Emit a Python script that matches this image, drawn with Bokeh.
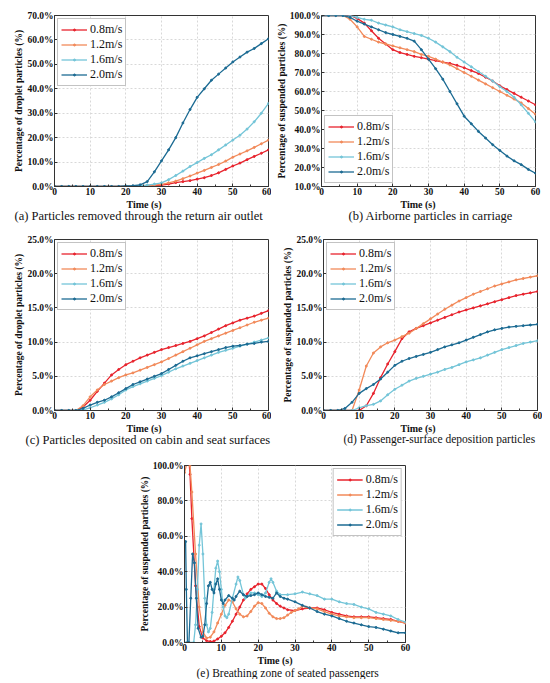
from bokeh.plotting import figure
from bokeh.models import Title, PrintfTickFormatter, FixedTicker, Range1d, Spacer
from bokeh.layouts import column, row
from bokeh.embed import file_html
from bokeh.resources import INLINE

SERIES = ["0.8m/s", "1.2m/s", "1.6m/s", "2.0m/s"]
COLORS = ["#e8232d", "#f28a5a", "#74c5d8", "#1c6b93"]

# time axis (s) for panels a-d
T = [0, 2, 4, 6, 8, 10, 12, 14, 16, 18, 20, 22, 24, 26, 28, 30,
     32, 34, 36, 38, 40, 42, 44, 46, 48, 50, 52, 54, 56, 58, 60]

# (a) removed through return air outlet (%)
a_08 = [0, 0, 0, 0, 0, 0, 0, 0, 0, 0, 0.1, 0.1, 0.2, 0.3, 0.4, 0.6,
        1.0, 1.6, 2.0, 2.4, 3.0, 3.6, 4.5, 5.6, 7.0, 8.4, 9.6, 11.0, 12.3, 13.6, 15.0]
a_12 = [0, 0, 0, 0, 0, 0, 0, 0, 0, 0, 0.1, 0.1, 0.2, 0.4, 0.6, 0.9,
        1.5, 2.2, 3.2, 4.3, 5.5, 6.6, 7.8, 9.0, 10.4, 12.0, 13.3, 14.6, 16.0, 17.5, 19.0]
a_16 = [0, 0, 0, 0, 0, 0, 0, 0, 0, 0, 0.1, 0.2, 0.3, 0.6, 1.0, 1.5,
        2.8, 4.5, 6.3, 8.2, 9.8, 11.5, 13.0, 15.0, 17.0, 19.0, 21.0, 23.5, 26.5, 30.0, 34.0]
a_20 = [0, 0, 0, 0, 0, 0, 0, 0, 0, 0, 0.2, 0.3, 0.7, 2.0, 6.0, 10.5,
        15.0, 20.0, 26.0, 31.5, 36.5, 40.0, 43.5, 46.0, 48.5, 51.0, 53.0, 55.0, 56.5, 58.5, 60.5]

# (b) airborne particles in carriage (%)
b_08 = [100, 100, 100, 100, 100, 98.5, 96, 92, 88, 85, 82, 80.5, 79.5, 78.5, 77.8, 77,
        76.3, 75.5, 74.8, 73.8, 72.5, 71, 69.5, 67.5, 65.5, 63, 61, 59, 57, 55, 53]
b_12 = [100, 100, 100, 100, 98, 94, 89, 87.5, 86, 85, 84, 83, 82, 81, 79.5, 78.5,
        77, 75.5, 74, 72, 70, 68, 66, 64, 62, 60, 58, 56, 54, 51, 48]
b_16 = [100, 100, 100, 100, 100, 99, 98, 97.5, 96, 95, 94, 92.5, 91.5, 90.5, 89.5, 88,
        86, 83.5, 81, 78, 75.5, 73, 70.5, 68, 65.5, 62.5, 60, 57, 53, 48.5, 44]
b_20 = [100, 100, 100, 100, 99, 97, 95.5, 94, 92.5, 91, 90, 89, 88, 86.5, 82, 77,
        72, 66.5, 60, 53.5, 47, 43, 39, 35.5, 32, 29, 26, 23.5, 21.5, 19, 17]

# (c) deposited on cabin and seat surfaces (%)
c_08 = [0, 0, 0, 0, 0.5, 1.5, 2.8, 4.0, 5.2, 6.0, 6.7, 7.2, 7.7, 8.1, 8.5, 8.9,
        9.2, 9.5, 9.8, 10.1, 10.5, 10.9, 11.4, 11.9, 12.4, 12.8, 13.2, 13.5, 13.8, 14.2, 14.6]
c_12 = [0, 0, 0, 0, 0.7, 2.0, 3.0, 3.8, 4.3, 4.8, 5.2, 5.5, 5.9, 6.3, 6.7, 7.1,
        7.6, 8.1, 8.6, 9.1, 9.6, 10.1, 10.5, 10.9, 11.3, 11.7, 12.1, 12.5, 12.9, 13.2, 13.5]
c_16 = [0, 0, 0, 0, 0.1, 0.4, 0.8, 1.2, 1.7, 2.3, 3.0, 3.5, 3.9, 4.3, 4.7, 5.1,
        5.6, 6.1, 6.5, 6.9, 7.3, 7.7, 8.1, 8.5, 8.8, 9.1, 9.4, 9.7, 10.0, 10.3, 10.6]
c_20 = [0, 0, 0, 0, 0.3, 0.8, 1.2, 1.5, 2.0, 2.6, 3.2, 3.8, 4.2, 4.6, 5.0, 5.4,
        6.0, 6.6, 7.2, 7.7, 8.0, 8.3, 8.6, 8.9, 9.2, 9.4, 9.5, 9.7, 9.8, 10.0, 10.1]

# (d) passenger-surface deposition (%)
d_08 = [0, 0, 0, 0, 0, 0, 0.7, 2.5, 4.8, 6.8, 8.6, 10.5, 11.5, 12.0, 12.4, 12.8,
        13.2, 13.6, 14.0, 14.4, 14.7, 15.0, 15.3, 15.6, 15.9, 16.2, 16.5, 16.8, 17.0, 17.2, 17.4]
d_12 = [0, 0, 0, 0, 0, 3.0, 6.5, 8.4, 9.3, 9.9, 10.3, 10.8, 11.3, 12.0, 12.7, 13.4,
        14.1, 14.8, 15.4, 16.0, 16.5, 17.0, 17.4, 17.8, 18.2, 18.5, 18.8, 19.1, 19.3, 19.5, 19.7]
d_16 = [0, 0, 0, 0, 0, 0.4, 0.7, 0.9, 1.4, 2.3, 3.1, 3.7, 4.3, 4.7, 5.0, 5.3,
        5.6, 6.0, 6.3, 6.7, 7.1, 7.4, 7.7, 8.1, 8.5, 8.9, 9.2, 9.5, 9.8, 10.0, 10.2]
d_20 = [0, 0, 0, 0.3, 1.2, 2.5, 3.2, 3.8, 4.6, 5.6, 6.6, 7.2, 7.6, 7.9, 8.2, 8.5,
        8.9, 9.3, 9.6, 9.9, 10.3, 10.7, 11.1, 11.5, 11.8, 12.0, 12.2, 12.3, 12.4, 12.5, 12.6]

# (e) breathing zone of seated passengers (%)
e_t_08 = [0, 1, 1.5, 2, 3, 4, 5, 6, 7, 8, 9, 10, 11, 12, 13, 14, 15, 16, 17, 18, 19, 20,
          21, 22, 23, 24, 25, 26, 27, 28, 30, 32, 34, 36, 38, 40, 42, 44, 46, 48, 50,
          52, 54, 56, 58, 60]
e_08 = [100, 108, 95, 70, 32, 9, 2.5, 1.0, 0.5, 0.8, 2.0, 3.5, 5.5, 8.5, 12, 16, 20, 24,
        27.5, 30, 31.5, 33, 33, 30.5, 27, 24, 22, 20.5, 19.5, 18.5, 18, 19, 19.5, 19.5,
        18.5, 17, 16, 15, 14.5, 14.5, 14.5, 14, 13.5, 13, 12, 11]
e_t_12 = [0, 1, 1.5, 2, 3, 4, 5, 6, 7, 8, 9, 10, 11, 12, 13, 14, 15, 16, 17, 18, 19, 20,
          21, 22, 23, 24, 25, 26, 27, 28, 29, 30, 31, 32, 33, 34, 36, 38, 40, 42, 44,
          46, 48, 50, 52, 54, 56, 58, 60]
e_12 = [96, 104, 100, 85, 50, 20, 6, 2.5, 3, 6, 11, 16, 21, 24, 23, 19, 16, 14.5, 15,
        17.5, 20.5, 22.5, 22, 19.5, 16.5, 14.5, 13.5, 13.5, 14, 15.5, 17, 18, 19, 20.5,
        20, 19.5, 19, 17.5, 16, 15, 14.5, 14, 14, 14, 13.5, 13, 12.5, 12, 11]
e_t_16 = [0, 2.5, 3, 3.5, 4, 4.5, 5, 5.5, 6, 6.5, 7, 7.5, 8, 8.5, 9, 9.5, 10, 10.5, 11,
          11.5, 12, 13, 14, 14.5, 15, 16, 16.5, 17, 18, 19, 20, 21, 22, 23, 23.5, 24,
          25, 26, 28, 30, 32, 34, 36, 38, 40, 42, 44, 46, 48, 50, 52, 54, 56, 58, 60]
e_16 = [0, 0, 10, 30, 55, 67, 50, 25, 10, 6, 8, 17, 30, 42, 46, 40, 30, 20, 15,
        14, 16, 25, 33, 37, 35, 27, 25, 26, 28, 28, 27, 26, 28, 34, 36, 34,
        29, 27, 27, 27.5, 28.5, 27.5, 26.5, 24.5, 24.5, 23, 22, 21.5, 20, 19, 17, 16, 15, 13, 11.5]
e_t_20 = [0, 0.3, 0.5, 0.8, 1.2, 1.7, 2.2, 2.7, 3.2, 3.7, 4.5, 5, 5.5, 6, 6.5, 7, 7.5,
          8, 8.5, 9, 9.5, 10, 10.5, 11, 12, 13, 13.5, 14, 15, 16, 17, 18, 19, 20, 21,
          22, 23, 24, 25, 26, 27, 28, 30, 32, 34, 36, 38, 40, 42, 44, 46, 48, 50, 52,
          54, 56, 58, 60]
e_20 = [57, 57, 30, 0, 0, 25, 50, 45, 25, 8, 3, 3.5, 10, 22, 32, 34, 30,
        28, 33, 36, 30, 24, 22, 24, 26.5, 25, 24, 26, 29, 27, 26, 26.5, 27, 28, 27,
        26, 25.5, 25, 28, 26, 25, 24.5, 23, 21, 19.5, 17.5, 16, 15, 13.5, 12, 11, 10, 9, 8.5,
        7.5, 6.5, 5.5, 5.5]

X_TICKS = [0, 10, 20, 30, 40, 50, 60]

SERIF = "Liberation Serif"


def panel(series_x, series_y, y_lo, y_hi, y_step, ylabel, caption, cap_size, cap_off,
          cap_standoff, time_off, legend_loc, fw, fh, bl, br, bt, bb):
    p = figure(output_backend="svg", toolbar_location=None,
               frame_width=fw, frame_height=fh,
               min_border_left=bl, min_border_right=br,
               min_border_top=bt, min_border_bottom=bb,
               x_range=Range1d(0, 60), y_range=Range1d(y_lo, y_hi),
               background_fill_color="white", border_fill_color="white")
    p.outline_line_color = "#333333"
    p.outline_line_width = 1
    for xs, ys, name, col in zip(series_x, series_y, SERIES, COLORS):
        p.line(xs, ys, line_color=col, line_width=1.3, legend_label=name)
        p.scatter(xs, ys, size=2.0, fill_color=col, line_color=col, legend_label=name)

    p.xaxis.ticker = FixedTicker(ticks=X_TICKS,
                                 minor_ticks=list(range(0, 61, 5)))
    yt = []
    v = y_lo
    while v <= y_hi + 1e-9:
        yt.append(v)
        v += y_step
    p.yaxis.ticker = FixedTicker(ticks=yt)
    p.yaxis.formatter = PrintfTickFormatter(format="%.1f%%")
    p.yaxis.axis_label = ylabel

    for ax in (p.xaxis[0], p.yaxis[0]):
        ax.major_label_text_font = SERIF
        ax.major_label_text_font_style = "bold"
        ax.major_label_text_font_size = "9.5px"
        ax.major_label_text_color = "#111111"
        ax.axis_label_text_font = SERIF
        ax.axis_label_text_font_style = "bold"
        ax.axis_label_text_font_size = "9.5px"
        ax.axis_label_text_color = "#111111"
        ax.axis_label_standoff = 0
        ax.major_label_standoff = 1
        ax.major_tick_in = 3
        ax.major_tick_out = 0
        ax.minor_tick_in = 2
        ax.minor_tick_out = 0
        ax.axis_line_color = "#333333"
        ax.major_tick_line_color = "#333333"
        ax.minor_tick_line_color = "#333333"

    p.xgrid.grid_line_color = "#d8d8d8"
    p.ygrid.grid_line_color = "#d8d8d8"
    p.xgrid.grid_line_dash = "2 2"
    p.ygrid.grid_line_dash = "2 2"

    p.add_layout(Title(text="Time (s)", align="left", offset=time_off,
                       text_font=SERIF, text_font_style="bold",
                       text_font_size="10px", text_color="#111111",
                       standoff=-2), "below")
    p.add_layout(Title(text=caption, align="left", offset=cap_off,
                       text_font=SERIF, text_font_style="normal",
                       text_font_size=cap_size, text_color="#111111",
                       standoff=cap_standoff), "below")

    lg = p.legend[0]
    lg.location = legend_loc
    lg.label_text_font = SERIF
    lg.label_text_font_size = "12px"
    lg.label_text_color = "#111111"
    lg.glyph_width = 26
    lg.glyph_height = 5
    lg.label_height = 13
    lg.label_standoff = 3
    lg.spacing = 0
    lg.padding = 3
    lg.margin = 3
    lg.border_line_color = "#888888"
    lg.border_line_width = 1
    lg.background_fill_alpha = 1.0
    return p


pa = panel([T] * 4, [a_08, a_12, a_16, a_20], 0, 70, 10,
           "Percentage of droplet particles (%)",
           "(a) Particles removed through the return air outlet", "12.5px", -40, -3, 72,
           "top_left", 214, 171, 54, 3, 15, 37)
pb = panel([T] * 4, [b_08, b_12, b_16, b_20], 10, 100, 10,
           "Percentage of suspended particles (%)",
           "(b) Airborne particles in carriage", "12.5px", 27, -3, 79,
           "bottom_left", 214, 171, 50, 7, 15, 37)
pc = panel([T] * 4, [c_08, c_12, c_16, c_20], 0, 25, 5,
           "Percentage of droplet particles (%)",
           "(c) Particles deposited on cabin and seat surfaces", "12.5px", -29, -3, 72,
           "top_left", 214, 171, 54, 3, 16, 37)
pd = panel([T] * 4, [d_08, d_12, d_16, d_20], 0, 25, 5,
           "Percentage of suspended particles (%)",
           "(d) Passenger-surface deposition particles", "11.5px", 20, -3, 77,
           "top_left", 214, 171, 52, 5, 16, 37)
pe = panel([e_t_08, e_t_12, e_t_16, e_t_20], [e_08, e_12, e_16, e_20], 0, 100, 20,
           "Percentage of suspended particles (%)",
           "(e) Breathing zone of seated passengers", "11.5px", 12, 1, 73,
           "top_right", 221, 177, 50, 8, 18, 34)

layout = column(row(pa, pb), row(pc, pd), row(Spacer(width=134, height=10), pe),
                spacing=0)

open("out.html", "w").write(file_html(layout, INLINE))
